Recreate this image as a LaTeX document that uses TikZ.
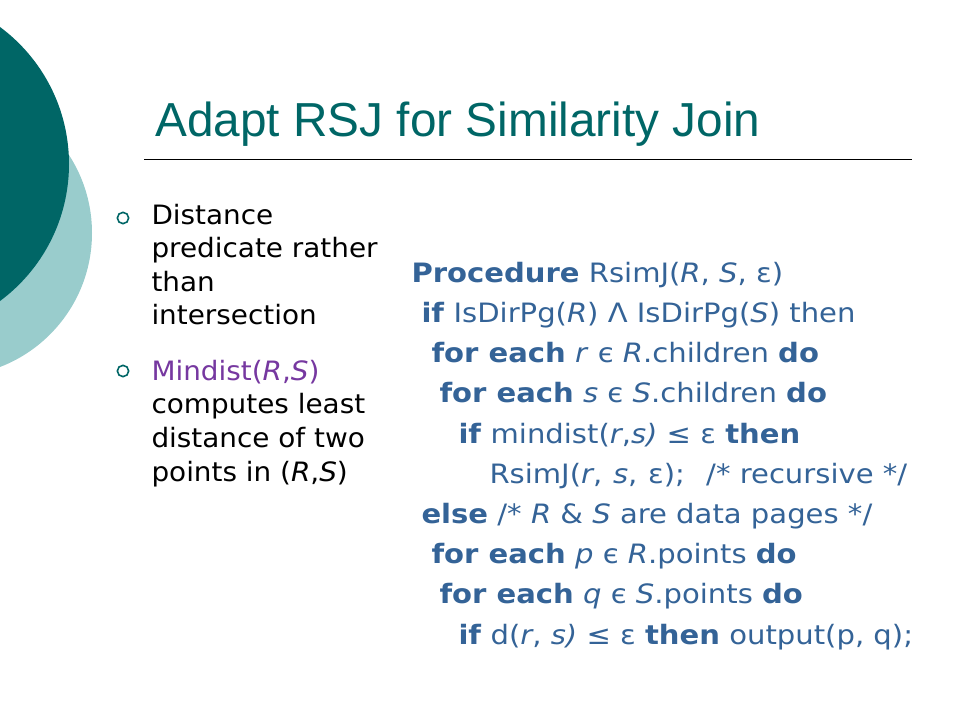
\documentclass[tikz,border=0pt]{standalone}
\usepackage{fontspec}
\setmainfont{DejaVu Sans}
\newfontfamily\titlefont{Liberation Sans}
\newfontfamily\bulletfont[FakeStretch=1.045]{DejaVu Sans}
\newfontfamily\codefont[FakeStretch=1.09]{DejaVu Sans}

\definecolor{darkteal}{RGB}{0,102,102}
\definecolor{lightteal}{RGB}{153,204,204}
\definecolor{codeblue}{RGB}{52,99,151}
\definecolor{mindpurple}{RGB}{118,56,160}

\tikzset{every picture/.style={line width=0.75pt}}
\tikzset{
  bulletmark/.style={circle, draw=darkteal, line width=1.2pt, inner sep=0pt, minimum size=8.5pt},
  bullettext/.style={anchor=base west, align=left, inner sep=0pt, font=\bulletfont\fontsize{20}{25.2}\selectfont},
  codeline/.style={anchor=base west, inner sep=0pt, text=codeblue, font=\codefont\fontsize{20}{24}\selectfont},
}

\begin{document}
\begin{tikzpicture}[x=0.75pt,y=0.75pt,yscale=-1,xscale=1]
	\useasboundingbox (0,0) rectangle (960,720);

	%Shape: Circle [light] 
	\fill [lightteal] (-51.5,233) circle [radius=143.5];
	%Shape: Circle [dark] 
	\fill [darkteal] (-101.5,164) circle [radius=170.5];

	% Title
	\node [anchor=base west, inner sep=0pt, text=darkteal, font=\titlefont\fontsize{35.8}{40}\selectfont] (title) at (155,137) {Adapt RSJ for Similarity Join};
	%Straight Lines [rule] 
	\draw [line width=0.75]    (144,160) -- (912,160) ;

	% Bullets
	\node [bulletmark] (dot1) at (123,218) {};
	\node [bulletmark] (dot2) at (123,371) {};
	% Text Node (base is the last line)
	\node [bullettext] (pt1) at (151,325) {Distance\\predicate rather\\than\\intersection};
	% Text Node (base is the last line)
	\node [bullettext] (pt2) at (151,481) {\textcolor{mindpurple}{Mindist(\textit{R},\textit{S})}\\computes least\\distance of two\\points in (\textit{R},\textit{S})};

	% Code lines
	\node [codeline] (code1) at (411,282) {\textbf{Procedure} RsimJ(\textit{R}, \textit{S}, ε)};
	\node [codeline] (code2) at (421,322) {\textbf{if} IsDirPg(\textit{R}) Λ IsDirPg(\textit{S}) then};
	\node [codeline] (code3) at (431,362) {\textbf{for each} \textit{r} є \textit{R}.children \textbf{do}};
	\node [codeline] (code4) at (439,402) {\textbf{for each} \textit{s} є \textit{S}.children \textbf{do}};
	\node [codeline] (code5) at (458,443) {\textbf{if} mindist(\textit{r},\textit{s)} ≤ ε \textbf{then}};
	\node [codeline] (code6) at (489,483) {RsimJ(\textit{r},\hspace{0.4em}\textit{s},\hspace{0.4em}ε);\hspace{0.8em}/* recursive */};
	\node [codeline] (code7) at (421,523) {\textbf{else} /* \textit{R} \& \textit{S} are data pages */};
	\node [codeline] (code8) at (431,563) {\textbf{for each} \textit{p} є \textit{R}.points \textbf{do}};
	\node [codeline] (code9) at (439,603) {\textbf{for each} \textit{q} є \textit{S}.points \textbf{do}};
	\node [codeline] (code10) at (458,644) {\textbf{if} d(\textit{r}, \textit{s)} ≤ ε \textbf{then} output(p, q);};

\end{tikzpicture}
\end{document}
